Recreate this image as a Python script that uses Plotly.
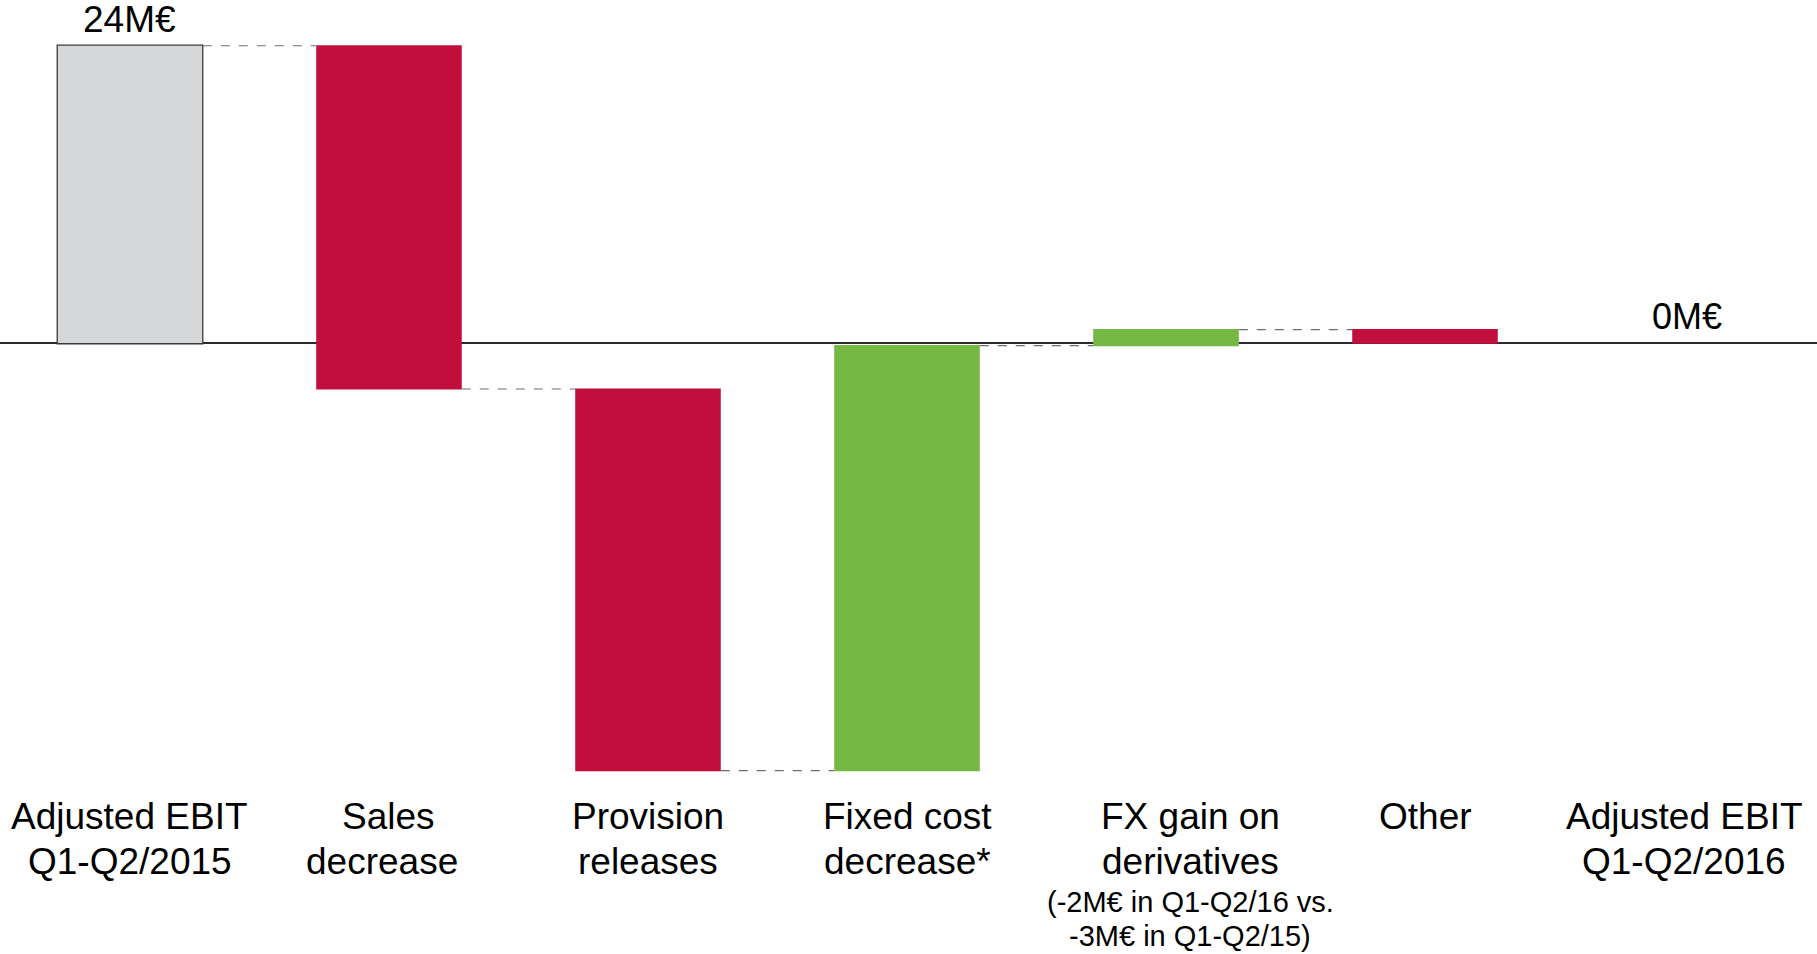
import plotly.graph_objects as go

# Adjusted EBIT bridge, Q1-Q2/2015 -> Q1-Q2/2016 (M€)
categories = ["start", "sales", "provision", "fixed", "fx", "other", "end"]
labels = [
    "Adjusted EBIT<br>Q1-Q2/2015",
    "Sales<br>decrease",
    "Provision<br>releases",
    "Fixed cost<br>decrease*",
    "FX gain on<br>derivatives",
    "Other",
    "Adjusted EBIT<br>Q1-Q2/2016",
]
sublabel_fx = ["(-2M€ in Q1-Q2/16 vs.", "-3M€ in Q1-Q2/15)"]
measures = ["absolute", "relative", "relative", "relative", "relative", "relative"]
values = [24.0, -27.7, -30.8, 34.3, 1.3, -1.1]

RED = "#C20E3D"
GREEN = "#76B844"
GREY = "#D6D7D9"
FONT = "Liberation Sans, Arial, sans-serif"

W, H = 1817, 954

# the closing total is zero, so its bar has no height; only its label is drawn
closing = sum(values)

fig = go.Figure(
    go.Waterfall(
        x=categories[:len(values)],
        y=values,
        measure=measures,
        width=0.562,
        increasing=dict(marker=dict(color=GREEN, line=dict(width=0))),
        decreasing=dict(marker=dict(color=RED, line=dict(width=0))),
        totals=dict(marker=dict(color=GREY, line=dict(color="#3a3a3a", width=1.3))),
        connector=dict(mode="between", line=dict(color="#6e6e6e", width=1.2, dash="dash")),
        hoverinfo="skip",
        showlegend=False,
    )
)


def py(px):
    """Pixel row -> paper coordinate."""
    return 1 - px / H


annotations = []
# horizontal nudges for individual label lines: (category index, line) -> px
shifts = {(4, 0): 24, (4, 1): 24, (1, 1): -7}
for i, lab in enumerate(labels):
    for j, line in enumerate(lab.split("<br>")):
        annotations.append(dict(
            x=i, xref="x", y=py(816 + 45 * j), yref="paper",
            text=line, showarrow=False, xanchor="center", yanchor="middle",
            xshift=shifts.get((i, j), 0),
            font=dict(family=FONT, size=37, color="#000000"),
        ))
for j, line in enumerate(sublabel_fx):
    annotations.append(dict(
        x=4, xref="x", y=py(902 + 34 * j), yref="paper",
        text=line, showarrow=False, xanchor="center", yanchor="middle",
        xshift=24,
        font=dict(family=FONT, size=29, color="#000000"),
    ))

# value labels for the opening and closing totals
annotations.append(dict(
    x=0, xref="x", y=values[0], yref="y", yshift=4,
    text=f"{values[0]:.0f}M€", showarrow=False, xanchor="center", yanchor="bottom",
    font=dict(family=FONT, size=37, color="#000000"),
))
annotations.append(dict(
    x=6, xref="x", y=closing, yref="y", yshift=4, xshift=3,
    text=f"{abs(closing):.0f}M€", showarrow=False, xanchor="center", yanchor="bottom",
    font=dict(family=FONT, size=36, color="#000000"),
))

fig.update_layout(
    width=W, height=H,
    margin=dict(l=0, r=0, t=0, b=0),
    paper_bgcolor="white", plot_bgcolor="white",
    annotations=annotations,
    xaxis=dict(
        type="category", range=[-0.5019, 6.5135],
        showticklabels=False, showgrid=False, zeroline=False,
        showline=False, ticks="", fixedrange=True,
    ),
    yaxis=dict(
        range=[-49.29, 27.69],
        showticklabels=False, showgrid=False,
        zeroline=True, zerolinecolor="#2b2b2b", zerolinewidth=2,
        showline=False, ticks="", fixedrange=True,
    ),
)

fig.write_html("out.html")
